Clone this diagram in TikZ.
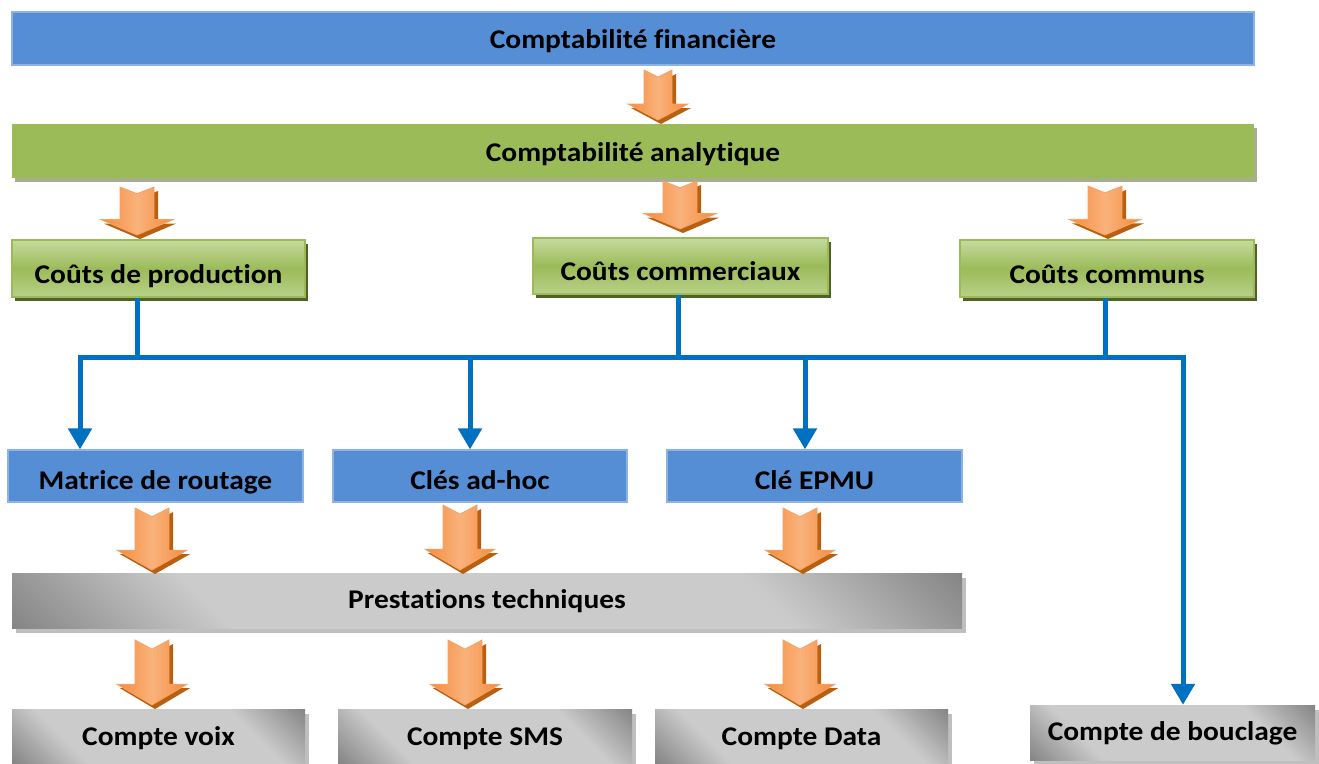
\documentclass[tikz,border=0pt]{standalone}
\usepackage{fontspec}
\setmainfont[Ligatures=NoCommon, FakeStretch=1.09]{Carlito}
\usetikzlibrary{arrows.meta,shadows}
\definecolor{blueF}{HTML}{558ED5}
\definecolor{blueB}{HTML}{8DB3E2}
\definecolor{greenF}{HTML}{9BBB59}
\definecolor{greenL}{HTML}{C6DA9E}
\definecolor{greenS}{HTML}{A6AE8F}
\definecolor{greenD}{HTML}{4F6228}
\definecolor{orF}{HTML}{F58B3C}
\definecolor{orL}{HTML}{F9B27C}
\definecolor{orS}{HTML}{B8600F}
\definecolor{lineB}{HTML}{0070C0}
\definecolor{metD}{HTML}{5E5E5E}
\definecolor{metL}{HTML}{CBCBCB}
\definecolor{grayS}{HTML}{BFBFBF}
\pgfdeclareverticalshading{metal}{100bp}{color(0bp)=(metD); color(6bp)=(metD); color(30bp)=(metL); color(70bp)=(metL); color(94bp)=(metD); color(100bp)=(metD)}
\tikzset{
  lbl/.style={font=\fontsize{27}{32}\selectfont\bfseries, text=black, inner sep=0pt, text depth=0pt},
  basel/.style={text height=#1pt},
  bluebox/.style={lbl, rectangle, fill=blueF, draw=blueB, line width=1.2pt},
  greenbar/.style={lbl, rectangle, fill=greenF, draw=none,
     copy shadow={shadow xshift=3pt, shadow yshift=-4pt, fill=greenS, draw=none}},
  greenbox/.style={lbl, rectangle, top color=greenL, bottom color=greenL!70!greenF, middle color=greenF,
     draw=greenF, line width=1.5pt,
     copy shadow={shadow xshift=3pt, shadow yshift=-4pt, fill=greenD, draw=none}},
  graybox/.style={lbl, rectangle, shading=metal, shading angle=-45, draw=none,
     copy shadow={shadow xshift=4pt, shadow yshift=-5pt, fill=grayS, draw=none}},
  conn/.style={draw=lineB, line width=5pt},
  connarr/.style={conn, -{Triangle[width=23pt,length=21pt]}},
}
% orange block arrow: x, ytop, ybottom, half shaft, half head
\newcommand{\orarr}[5]{%
  \pgfmathsetmacro\oH{#3-#2}%
  \pgfmathsetmacro\hY{#3-0.32*\oH}%
  \pgfmathsetmacro\nY{#2+0.14*\oH}%
  \pgfmathsetmacro\xL{#1-#4}\pgfmathsetmacro\xR{#1+#4}%
  \pgfmathsetmacro\hL{#1-#5}\pgfmathsetmacro\hR{#1+#5}%
  \fill[orS] (\xL+4,#2+4) -- (#1+4,\nY+4) -- (\xR+4,#2+4) -- (\xR+4,\hY+4) -- (\hR+3,\hY+4)
     -- (#1+3,#3+4) -- (\hL+3,\hY+4) -- (\xL+4,\hY+4) -- cycle;
  \shade[left color=orF, right color=orF, middle color=orL, draw=orF!80!white, line width=0.8pt]
     (\xL,#2) -- (#1,\nY) -- (\xR,#2) -- (\xR,\hY) -- (\hR,\hY) -- (#1,#3) -- (\hL,\hY) -- (\xL,\hY) -- cycle;
}
\begin{document}
\begin{tikzpicture}[x=1pt,y=-1pt]
\useasboundingbox (0,0) rectangle (1319,763);
% top bars
\node[bluebox, basel=19, minimum width=1242pt, minimum height=53pt] (fin) at (633,38.5) {Comptabilité financière};
\node[greenbar, basel=21, minimum width=1242pt, minimum height=54pt] (ana) at (633,151) {Comptabilité analytique};
% cost boxes
\node[greenbox, basel=29, minimum width=293pt, minimum height=57pt] (prod) at (158.5,268.5) {Coûts de production};
\node[greenbox, basel=28, minimum width=295pt, minimum height=56pt] (comm) at (680.5,266) {Coûts commerciaux};
\node[greenbox, basel=29, minimum width=294pt, minimum height=57pt] (cmn) at (1107,268.5) {Coûts communs};
% keys
\node[bluebox, basel=26, minimum width=295pt, minimum height=52pt] (mat) at (155.5,476) {Matrice de routage};
\node[bluebox, basel=26, minimum width=294pt, minimum height=52pt] (cle) at (480,476) {Clés ad-hoc};
\node[bluebox, basel=26, minimum width=295pt, minimum height=52pt] (epmu) at (814.5,476) {Clé EPMU};
% prestations
\node[graybox, basel=16, minimum width=950pt, minimum height=55pt] (prest) at (487,600.5) {Prestations techniques};
% accounts
\node[graybox, basel=18, minimum width=293pt, minimum height=54pt] (voix) at (158.5,736) {Compte voix};
\node[graybox, basel=18, minimum width=294pt, minimum height=54pt] (sms) at (485,736) {Compte SMS};
\node[graybox, basel=18, minimum width=293pt, minimum height=54pt] (data) at (801.5,736) {Compte Data};
\node[graybox, basel=15, minimum width=285pt, minimum height=55pt] (boucl) at (1172.5,732.5) {Compte de bouclage};
% orange arrows
\orarr{658}{70}{120}{14}{30}
\orarr{137}{187}{235}{17}{36}
\orarr{680}{181}{229}{17}{36}
\orarr{1105}{186}{235}{17}{36}
\orarr{152}{508}{570}{17}{35}
\orarr{460}{505}{570}{17}{35}
\orarr{800}{508}{570}{17}{35}
\orarr{152}{640}{705}{17}{35}
\orarr{465}{640}{705}{17}{35}
\orarr{800}{640}{705}{17}{35}
% blue connectors
\coordinate (busL) at (80,357);
\coordinate (busR) at (1183,357);
\coordinate (t1) at (137,357);
\coordinate (t2) at (678,357);
\coordinate (t3) at (1105,357);
\coordinate (d2) at (470,357);
\coordinate (d3) at (805,357);
\draw[conn] (t1 |- prod.south) -- (t1);
\draw[conn] (t2 |- comm.south) -- (t2);
\draw[conn] (t3 |- cmn.south) -- (t3);
\draw[conn, line cap=rect] (busL) -- (busR);
\draw[connarr] (busL) -- (busL |- mat.north);
\draw[connarr] (d2) -- (d2 |- cle.north);
\draw[connarr] (d3) -- (d3 |- epmu.north);
\draw[connarr] (busR) -- (busR |- boucl.north);
\end{tikzpicture}
\end{document}
